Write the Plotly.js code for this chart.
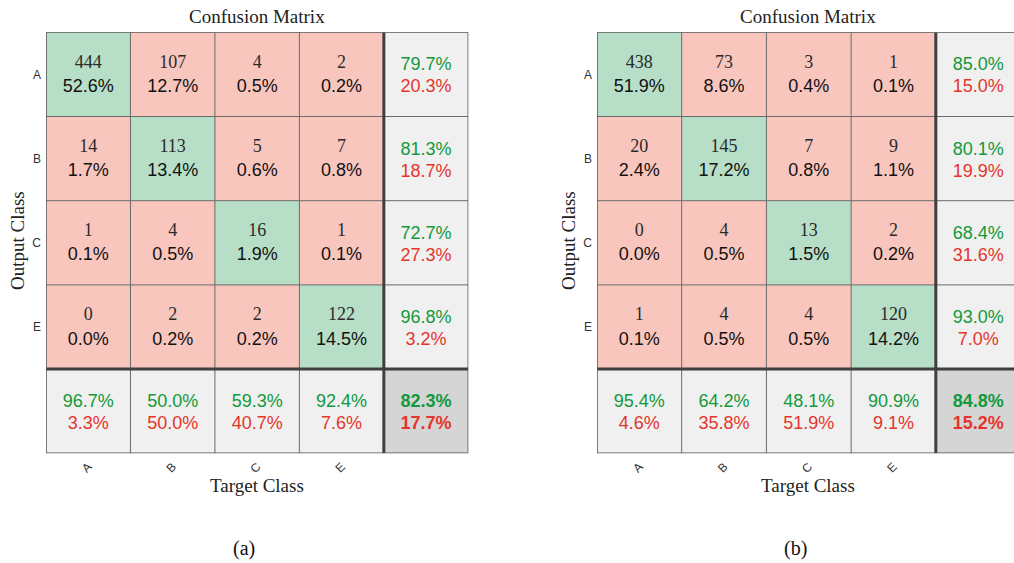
<!DOCTYPE html>
<html>
<head>
<meta charset="utf-8">
<script src="https://cdn.plot.ly/plotly-3.0.1.min.js"></script>
<style>html,body{margin:0;padding:0;background:#fff;}#chart{width:1014px;height:563px;}</style>
</head>
<body>
<div id="chart"></div>
<script>
// ---------- data ----------
const classes = ['A', 'B', 'C', 'E'];

// panel (a)
const countsA = [
  [444, 107, 4, 2],
  [14, 113, 5, 7],
  [1, 4, 16, 1],
  [0, 2, 2, 122]
];
const pctA = [
  [52.6, 12.7, 0.5, 0.2],
  [1.7, 13.4, 0.6, 0.8],
  [0.1, 0.5, 1.9, 0.1],
  [0.0, 0.2, 0.2, 14.5]
];
const rowAccA = [79.7, 81.3, 72.7, 96.8];
const rowErrA = [20.3, 18.7, 27.3, 3.2];
const colAccA = [96.7, 50.0, 59.3, 92.4];
const colErrA = [3.3, 50.0, 40.7, 7.6];
const totalAccA = 82.3;
const totalErrA = 17.7;

// panel (b)
const countsB = [
  [438, 73, 3, 1],
  [20, 145, 7, 9],
  [0, 4, 13, 2],
  [1, 4, 4, 120]
];
const pctB = [
  [51.9, 8.6, 0.4, 0.1],
  [2.4, 17.2, 0.8, 1.1],
  [0.0, 0.5, 1.5, 0.2],
  [0.1, 0.5, 0.5, 14.2]
];
const rowAccB = [85.0, 80.1, 68.4, 93.0];
const rowErrB = [15.0, 19.9, 31.6, 7.0];
const colAccB = [95.4, 64.2, 48.1, 90.9];
const colErrB = [4.6, 35.8, 51.9, 9.1];
const totalAccB = 84.8;
const totalErrB = 15.2;

const captions = ['(a)', '(b)'];

// ---------- styling ----------
const W = 1014, H = 563;
const SERIF = 'Liberation Serif, Times New Roman, serif';
const SANS = 'Liberation Sans, Arial, sans-serif';
const GREEN_TXT = '#12993b';
const RED_TXT = '#e5352b';
const cellColors = ['#f9c6be', '#b7dec6', '#f0f0f0', '#d5d5d5'];

const px = v => v / W;
const py = v => 1 - v / H;

const traces = [];
const shapes = [];
const annotations = [];

function fmt(v) { return v.toFixed(1) + '%'; }

function buildPanel(idx, counts, pct, rowAcc, rowErr, colAcc, colErr, totAcc, totErr, xDomainPx, xMax) {
  const xa = idx === 0 ? 'x' : 'x2';
  const ya = idx === 0 ? 'y' : 'y2';
  const n = classes.length;
  const size = n + 1;
  // cell category codes
  const z = [];
  for (let i = 0; i < size; i++) {
    const row = [];
    for (let j = 0; j < size; j++) {
      if (i === n && j === n) row.push(3);
      else if (i === n || j === n) row.push(2);
      else if (i === j) row.push(1);
      else row.push(0);
    }
    z.push(row);
  }
  const idxs = Array.from({length: size}, (_, k) => k);
  traces.push({
    type: 'heatmap', xaxis: xa, yaxis: ya, x: idxs, y: idxs, z: z,
    zmin: 0, zmax: 3, showscale: false, hoverinfo: 'skip',
    colorscale: [[0, cellColors[0]], [0.25, cellColors[0]], [0.25, cellColors[1]], [0.5, cellColors[1]],
                 [0.5, cellColors[2]], [0.75, cellColors[2]], [0.75, cellColors[3]], [1, cellColors[3]]]
  });

  // counts & percentages
  const cx = [], cyTop = [], cyBot = [], ct = [], pt = [];
  for (let i = 0; i < n; i++) for (let j = 0; j < n; j++) {
    cx.push(j); cyTop.push(i - 0.135); cyBot.push(i + 0.155);
    ct.push(String(counts[i][j])); pt.push(fmt(pct[i][j]));
  }
  traces.push({type: 'scatter', mode: 'text', xaxis: xa, yaxis: ya, x: cx, y: cyTop, text: ct,
    textfont: {family: SERIF, size: 18, color: '#2a2a2a'}, hoverinfo: 'skip', showlegend: false, cliponaxis: false});
  traces.push({type: 'scatter', mode: 'text', xaxis: xa, yaxis: ya, x: cx, y: cyBot, text: pt,
    textfont: {family: SANS, size: 18, color: '#111'}, hoverinfo: 'skip', showlegend: false, cliponaxis: false});

  // summaries
  const sx = [], syTop = [], syBot = [], gt = [], rt = [];
  for (let i = 0; i < n; i++) { sx.push(n); syTop.push(i - 0.1); syBot.push(i + 0.16); gt.push(fmt(rowAcc[i])); rt.push(fmt(rowErr[i])); }
  for (let j = 0; j < n; j++) { sx.push(j); syTop.push(n - 0.1); syBot.push(n + 0.16); gt.push(fmt(colAcc[j])); rt.push(fmt(colErr[j])); }
  sx.push(n); syTop.push(n - 0.1); syBot.push(n + 0.16);
  gt.push('<b>' + fmt(totAcc) + '</b>'); rt.push('<b>' + fmt(totErr) + '</b>');
  traces.push({type: 'scatter', mode: 'text', xaxis: xa, yaxis: ya, x: sx, y: syTop, text: gt,
    textfont: {family: SANS, size: 18, color: GREEN_TXT}, hoverinfo: 'skip', showlegend: false, cliponaxis: false});
  traces.push({type: 'scatter', mode: 'text', xaxis: xa, yaxis: ya, x: sx, y: syBot, text: rt,
    textfont: {family: SANS, size: 18, color: RED_TXT}, hoverinfo: 'skip', showlegend: false, cliponaxis: false});

  // grid lines
  for (let k = 0; k < n; k++) {
    const b = k + 0.5;
    const thick = (k === n - 1);
    const line = thick ? {color: '#3f3f3f', width: 3} : {color: '#6a6a6a', width: 1};
    shapes.push({type: 'line', xref: xa, yref: ya, x0: b, x1: b, y0: -0.5, y1: size - 0.5, line: line, layer: 'above'});
    shapes.push({type: 'line', xref: xa, yref: ya, x0: -0.5, x1: size - 0.5, y0: b, y1: b, line: line, layer: 'above'});
  }
  // outer border
  const bl = {color: '#555', width: 1.5};
  shapes.push({type: 'line', xref: xa, yref: ya, x0: -0.5, x1: -0.5, y0: -0.5, y1: size - 0.5, line: bl, layer: 'above'});
  shapes.push({type: 'line', xref: xa, yref: ya, x0: -0.5, x1: size - 0.5, y0: -0.5, y1: -0.5, line: bl, layer: 'above'});
  shapes.push({type: 'line', xref: xa, yref: ya, x0: -0.5, x1: size - 0.5, y0: size - 0.5, y1: size - 0.5, line: bl, layer: 'above'});
  if (xMax >= size - 0.5) shapes.push({type: 'line', xref: xa, yref: ya, x0: size - 0.5, x1: size - 0.5, y0: -0.5, y1: size - 0.5, line: bl, layer: 'above'});

  // text labels
  const cxPx = (xDomainPx[0] + xDomainPx[0] + 5 * 84.4) / 2;
  annotations.push({xref: 'paper', yref: 'paper', x: px(cxPx), y: py(17), text: 'Confusion Matrix', showarrow: false,
    xanchor: 'center', yanchor: 'middle', font: {family: SERIF, size: 19, color: '#222'}});
  annotations.push({xref: 'paper', yref: 'paper', x: px(cxPx), y: py(485), text: 'Target Class', showarrow: false,
    xanchor: 'center', yanchor: 'middle', font: {family: SERIF, size: 19, color: '#222'}});
  annotations.push({xref: 'paper', yref: 'paper', x: px(xDomainPx[0] - 29), y: py(241), text: 'Output Class', showarrow: false,
    textangle: -90, xanchor: 'center', yanchor: 'middle', font: {family: SERIF, size: 19, color: '#222'}});
  annotations.push({xref: 'paper', yref: 'paper', x: px(idx === 0 ? 243.5 : 795), y: py(548), text: captions[idx], showarrow: false,
    xanchor: 'center', yanchor: 'middle', font: {family: SERIF, size: 20, color: '#111'}});
}

const leftPx = [46, 468.3];
const rightPx = [597, 1014];
const rightMax = 4.5 - (1020.5 - 1014) / 84.4;

buildPanel(0, countsA, pctA, rowAccA, rowErrA, colAccA, colErrA, totalAccA, totalErrA, leftPx, 4.5);
buildPanel(1, countsB, pctB, rowAccB, rowErrB, colAccB, colErrB, totalAccB, totalErrB, rightPx, rightMax);

const yDom = [1 - 453.3 / H, 1 - 32.3 / H];
const tickFont = {family: SANS, size: 12, color: '#333'};
function xAxis(domPx, max, anchor) {
  return {domain: [px(domPx[0]), Math.min(1, px(domPx[1]))], range: [-0.5, max], anchor: anchor,
    tickvals: classes.map((_, k) => k), ticktext: classes, tickangle: -45, tickfont: tickFont,
    showgrid: false, zeroline: false, showline: false, ticks: '', fixedrange: true, ticklabelstandoff: 3};
}
function yAxis(anchor) {
  return {domain: yDom, range: [4.5, -0.5], anchor: anchor,
    tickvals: classes.map((_, k) => k), ticktext: classes, tickfont: tickFont,
    showgrid: false, zeroline: false, showline: false, ticks: '', fixedrange: true, ticklabelstandoff: 4};
}

const layout = {
  width: W, height: H, margin: {l: 0, r: 0, t: 0, b: 0},
  paper_bgcolor: '#fff', plot_bgcolor: '#fff', showlegend: false,
  xaxis: xAxis(leftPx, 4.5, 'y'),
  yaxis: yAxis('x'),
  xaxis2: xAxis(rightPx, rightMax, 'y2'),
  yaxis2: yAxis('x2'),
  shapes: shapes, annotations: annotations
};

Plotly.newPlot('chart', traces, layout, {displayModeBar: false, staticPlot: true});
</script>
</body>
</html>
